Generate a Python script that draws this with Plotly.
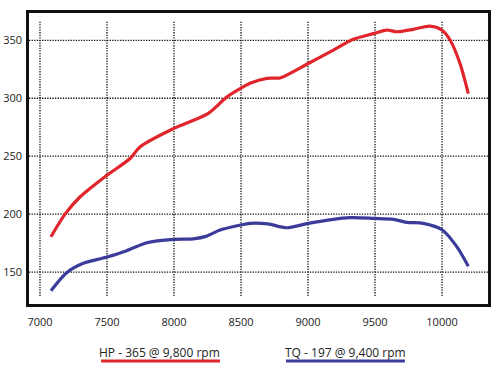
import plotly.graph_objects as go

rpm_hp = [7082, 7187, 7300, 7493, 7672, 7746, 8000, 8256, 8393, 8498, 8567, 8692, 8791, 8841,
          9002, 9189, 9338, 9495, 9587, 9662, 9786, 9910, 9998, 10060, 10134, 10196]
hp = [180.5, 200, 215, 233, 248, 258, 274, 287, 301, 308.6, 312.9, 317.2, 317.5, 320,
      330, 341.6, 350.9, 356, 358.9, 357.4, 359.5, 362.3, 358.9, 350.3, 330, 304]

rpm_tq = [7082, 7199, 7323, 7493, 7647, 7796, 8000, 8144, 8244, 8343, 8498, 8567, 8700, 8841,
          9002, 9313, 9495, 9637, 9736, 9860, 10002, 10110, 10196]
tq = [133.9, 149.4, 157.5, 162.7, 168.4, 175.3, 178.2, 178.6, 181, 186.2, 190.6, 192, 191.5, 188.2,
      192, 196.9, 196.3, 195.5, 192.9, 192, 186.3, 171.9, 155]

x_ticks = [7000, 7500, 8000, 8500, 9000, 9500, 10000]
x_tick_labels = ["7000", "7500", "8000", "8500", "9000", "9500", "10000"]
y_ticks = [150, 200, 250, 300, 350]
y_tick_labels = ["150", "200", "250", "300", "350"]

hp_label = "HP - 365 @ 9,800 rpm"
tq_label = "TQ - 197 @ 9,400 rpm"

RED = "#e0262c"
BLUE = "#3b3c9a"

fig = go.Figure()
fig.add_trace(go.Scatter(x=rpm_hp, y=hp, mode="lines", line=dict(color=RED, width=3.2, shape="spline", smoothing=0.8)))
fig.add_trace(go.Scatter(x=rpm_tq, y=tq, mode="lines", line=dict(color=BLUE, width=3.2, shape="spline", smoothing=0.8)))

grid_line = dict(color="#111", width=1.3, dash="1.3px,1.3px")
shapes = []
for xv in x_ticks:
    shapes.append(dict(type="line", xref="x", yref="y", x0=xv, x1=xv, y0=129.3, y1=366.7,
                       line=grid_line, layer="below"))
for yv in y_ticks:
    shapes.append(dict(type="line", xref="paper", yref="y", x0=0, x1=1, y0=yv, y1=yv,
                       line=grid_line, layer="below"))
# legend underlines
shapes.append(dict(type="line", xref="paper", yref="paper", x0=0.157, x1=0.416, y0=-0.196, y1=-0.196,
                   line=dict(color=RED, width=3)))
shapes.append(dict(type="line", xref="paper", yref="paper", x0=0.560, x1=0.819, y0=-0.196, y1=-0.196,
                   line=dict(color=BLUE, width=3)))

annotations = [
    dict(text=hp_label, xref="paper", yref="paper", x=0.2854, y=-0.165, showarrow=False,
         xanchor="center", yanchor="middle", font=dict(size=12, color="#222")),
    dict(text=tq_label, xref="paper", yref="paper", x=0.6906, y=-0.165, showarrow=False,
         xanchor="center", yanchor="middle", font=dict(size=12, color="#222")),
]

fig.update_layout(
    width=500, height=374,
    margin=dict(l=29, r=12, t=13, b=70),
    paper_bgcolor="white", plot_bgcolor="white",
    showlegend=False,
    font=dict(family="Open Sans, sans-serif", size=11, color="#222"),
    shapes=shapes, annotations=annotations,
    xaxis=dict(range=[6918, 10343], tickvals=x_ticks, ticktext=x_tick_labels, showgrid=False, zeroline=False,
               showline=True, linecolor="#111", linewidth=2.5, mirror=True, automargin=False,
               ticks="outside", ticklen=6, tickcolor="rgba(0,0,0,0)", fixedrange=True),
    yaxis=dict(range=[122.4, 373.6], tickvals=y_ticks, ticktext=y_tick_labels, showgrid=False, zeroline=False,
               showline=True, linecolor="#111", linewidth=2.5, mirror=True, automargin=False,
               ticks="outside", ticklen=2, tickcolor="rgba(0,0,0,0)", fixedrange=True),
)

fig.write_html("out.html", config={"displayModeBar": False},
               post_script="document.body.style.margin='0';document.body.style.padding='0';")
